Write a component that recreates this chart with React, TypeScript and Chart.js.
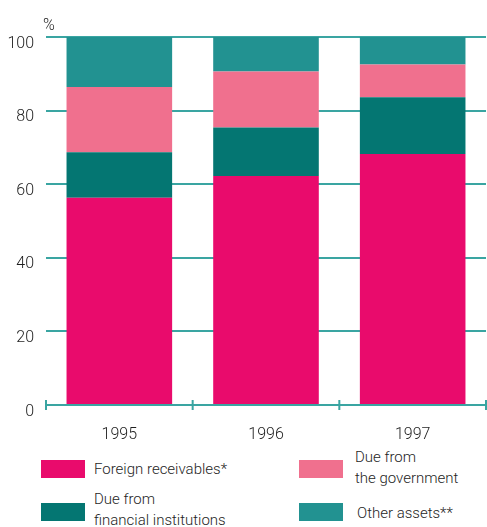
import React, { useEffect, useRef } from "react";
import { Chart, registerables } from "chart.js";

Chart.register(...registerables);

const categories = ["1995", "1996", "1997"];
const foreignReceivables = [56.3, 62.2, 68.2];
const dueFromFinancial = [12.4, 13.2, 15.4];
const dueFromGovernment = [17.7, 15.2, 8.9];
const otherAssets = [13.6, 9.4, 7.5];
const yTicks = [0, 20, 40, 60, 80, 100];

const COLORS = {
  foreign: "#e90b6c",
  financial: "#047672",
  government: "#f0708e",
  other: "#229291",
  grid: "#3aa5a2",
  text: "#1e1e1e",
};

const FONT = "Roboto, 'Liberation Sans', sans-serif";
const FS = 15;
const FW = 300;

const xTickMarks = {
  id: "xTickMarks",
  afterDatasetsDraw(chart: any) {
    const { ctx, chartArea } = chart;
    const x = chart.scales.x;
    const n = categories.length;
    ctx.save();
    ctx.strokeStyle = COLORS.grid;
    ctx.lineWidth = 2;
    ctx.beginPath();
    ctx.moveTo(chartArea.left, chartArea.bottom);
    ctx.lineTo(chartArea.right, chartArea.bottom);
    for (let i = 0; i <= n; i++) {
      const px = x.left + (i * (x.right - x.left)) / n;
      ctx.moveTo(px, chartArea.bottom - 5);
      ctx.lineTo(px, chartArea.bottom + 5);
    }
    ctx.stroke();
    ctx.fillStyle = COLORS.text;
    ctx.font = `${FW} ${FS + 1}px ${FONT}`;
    ctx.textAlign = "left";
    ctx.textBaseline = "alphabetic";
    ctx.fillText("%", chartArea.left - 3, chartArea.top - 7);
    ctx.restore();
  },
};

const legendItems = [
  { label: ["Foreign receivables*"], color: COLORS.foreign, left: 41, top: 460, textLeft: 94, textTop: 458.5 },
  { label: ["Due from", "financial institutions"], color: COLORS.financial, left: 41, top: 503, textLeft: 94, textTop: 488.5 },
  { label: ["Due from", "the government"], color: COLORS.government, left: 299, top: 460, textLeft: 355, textTop: 446.5 },
  { label: ["Other assets**"], color: COLORS.other, left: 299, top: 503, textLeft: 357, textTop: 502.5 },
];

export default function App() {
  const ref = useRef<HTMLCanvasElement | null>(null);
  useEffect(() => {
    document.body.style.margin = "0";
    const chart = new Chart(ref.current as HTMLCanvasElement, {
      type: "bar",
      data: {
        labels: categories,
        datasets: [
          { label: "Foreign receivables*", data: foreignReceivables, backgroundColor: COLORS.foreign },
          { label: "Due from financial institutions", data: dueFromFinancial, backgroundColor: COLORS.financial },
          { label: "Due from the government", data: dueFromGovernment, backgroundColor: COLORS.government },
          { label: "Other assets**", data: otherAssets, backgroundColor: COLORS.other },
        ],
      },
      options: {
        animation: false,
        responsive: false,
        maintainAspectRatio: false,
        layout: { padding: { top: 37, right: 1, left: 0, bottom: 0 } },
        datasets: { bar: { categoryPercentage: 1, barPercentage: 0.72 } } as any,
        plugins: { legend: { display: false }, tooltip: { enabled: false } },
        scales: {
          x: {
            stacked: true,
            grid: { display: false },
            border: { display: false },
            ticks: { color: COLORS.text, font: { family: FONT, size: FS + 1, weight: FW as any }, padding: 12 },
            afterFit(scale: any) {
              scale.height = 35;
            },
          },
          y: {
            stacked: true,
            min: 0,
            max: 100,
            afterBuildTicks(scale: any) {
              scale.ticks = yTicks.map((v) => ({ value: v }));
            },
            grid: { color: COLORS.grid, lineWidth: 2, drawTicks: false },
            border: { display: false },
            ticks: { color: COLORS.text, font: { family: FONT, size: FS + 1, weight: FW as any }, padding: 12, labelOffset: 6.5 },
            afterFit(scale: any) {
              scale.width = 46;
            },
          },
        },
      },
      plugins: [xTickMarks],
    });
    return () => chart.destroy();
  }, []);

  return (
    <div style={{ position: "fixed", left: 0, top: 0, width: 487, height: 527, overflow: "hidden", background: "#fff" }}>
      <canvas ref={ref} width={487} height={440} style={{ position: "absolute", left: 0, top: 0, width: 487, height: 440 }} />
      {legendItems.map((it, i) => (
        <React.Fragment key={i}>
          <div style={{ position: "absolute", left: it.left, top: it.top, width: 44, height: 18, background: it.color }} />
          <div
            style={{
              position: "absolute",
              left: it.textLeft,
              top: it.textTop,
              fontFamily: FONT,
              fontSize: FS,
              fontWeight: FW,
              lineHeight: "21px",
              color: COLORS.text,
              whiteSpace: "nowrap",
            }}
          >
            {it.label.map((l, j) => (
              <div key={j}>{l}</div>
            ))}
          </div>
        </React.Fragment>
      ))}
    </div>
  );
}
